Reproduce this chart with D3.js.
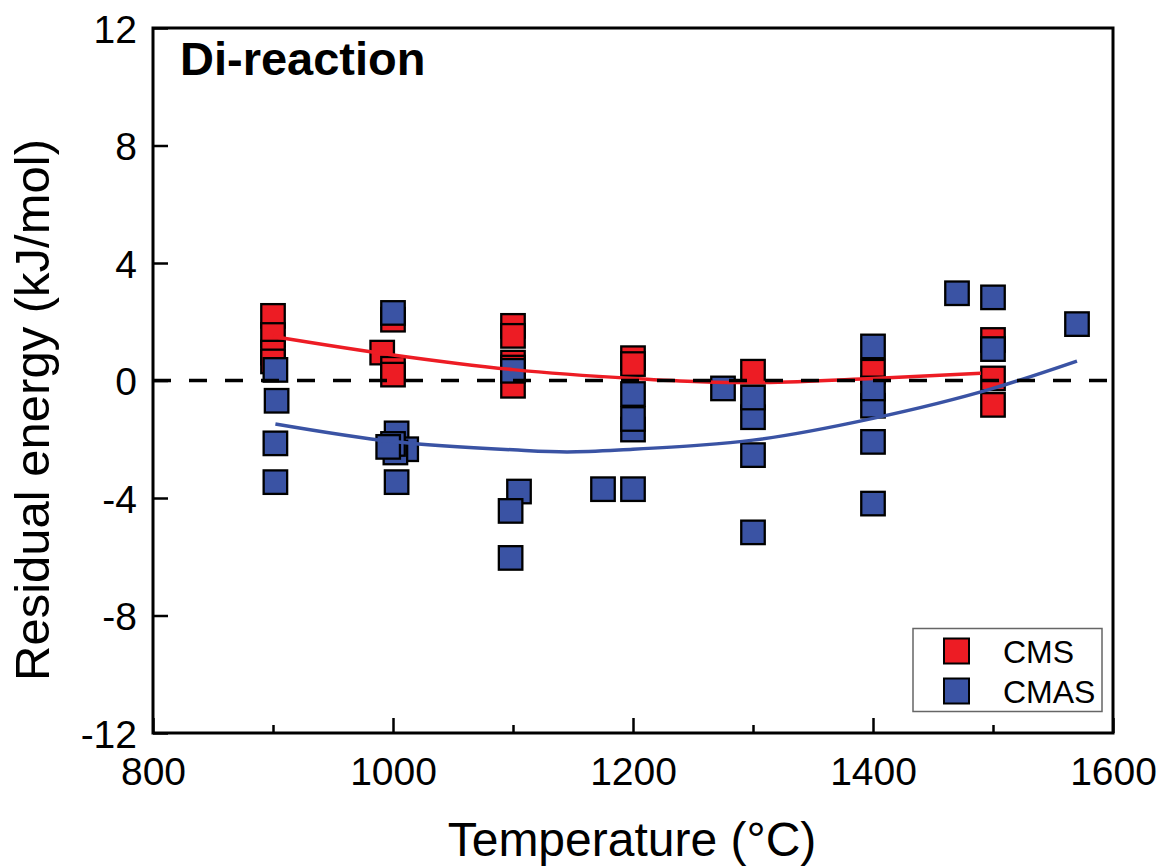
<!DOCTYPE html>
<html>
<head>
<meta charset="utf-8">
<script src="https://cdn.jsdelivr.net/npm/d3@7"></script>
<style>
  html, body { margin: 0; padding: 0; background: #fff; }
  svg { display: block; font-family: "Liberation Sans", Arial, sans-serif; }
</style>
</head>
<body>
<svg id="chart" width="1165" height="868"></svg>
<script>
// ---- data ----
const cmsT = [900, 900, 900, 900, 1000, 991, 1000, 1000, 1100, 1100, 1100, 1100, 1100, 1200, 1200, 1300, 1400, 1500, 1500, 1500];
const cmsV = [2.2, 1.55, 0.95, 0.65, 2.07, 0.95, 0.4, 0.2, 1.86, 1.52, 0.61, 0.44, -0.18, 0.76, 0.56, 0.3, 0.3, 1.38, 0.07, -0.83];

const cmasT = [902, 903, 902, 902, 1000, 1003, 1011, 1002, 1000, 996, 1003, 1100, 1105, 1098, 1098, 1175, 1200, 1200, 1200, 1200, 1275, 1300, 1300, 1300, 1300, 1400, 1400, 1400, 1400, 1400, 1470, 1500, 1500, 1570];
const cmasV = [0.36, -0.69, -2.14, -3.46, 2.3, -1.8, -2.34, -2.45, -2.16, -2.26, -3.46, 0.33, -3.78, -4.44, -6.04, -3.7, -1.67, -1.31, -0.46, -3.7, -0.27, -1.25, -0.58, -2.54, -5.17, 1.16, -0.86, -0.27, -2.09, -4.19, 2.97, 2.83, 1.07, 1.92];

// fit curves
const cmsFitT = [900, 1000, 1100, 1200, 1256, 1300, 1400, 1490];
const cmsFitV = [1.5, 0.87, 0.37, 0.07, -0.04, -0.07, 0.07, 0.25];
const cmasFitT = [902, 1000, 1100, 1145, 1200, 1256, 1300, 1400, 1500, 1570];
const cmasFitV = [-1.48, -2.08, -2.36, -2.43, -2.34, -2.2, -2.03, -1.29, -0.27, 0.66];

const xTicks = [800, 1000, 1200, 1400, 1600];
const xMinorTicks = [900, 1100, 1300, 1500];
const yTicks = [-12, -8, -4, 0, 4, 8, 12];

const seriesNames = ["CMS", "CMAS"];
const seriesColors = ["#ED1C24", "#3A53A4"];

// ---- layout ----
const svg = d3.select("#chart");
const L = 153, R = 1113, T = 28, B = 733;
const x = d3.scaleLinear().domain([800, 1600]).range([L, R]);
const y = d3.scaleLinear().domain([-12, 12]).range([B, T]);
const fmt = d => String(d); // plain hyphen-minus like the reference

// fit lines
const line = d3.line().x(d => x(d[0])).y(d => y(d[1])).curve(d3.curveMonotoneX);
const cmsFit = cmsFitT.map((t, i) => [t, cmsFitV[i]]);
const cmasFit = cmasFitT.map((t, i) => [t, cmasFitV[i]]);

// markers
const S = 23.5;
function drawSquares(ts, vs, color) {
  svg.append("g").selectAll("rect")
    .data(ts.map((t, i) => [t, vs[i]]))
    .join("rect")
    .attr("x", d => x(d[0]) - S / 2)
    .attr("y", d => y(d[1]) - S / 2)
    .attr("width", S).attr("height", S)
    .attr("fill", color)
    .attr("stroke", "#000").attr("stroke-width", 2.3);
}
drawSquares(cmsT, cmsV, seriesColors[0]);
drawSquares(cmasT, cmasV, seriesColors[1]);

svg.append("path").datum(cmsFit).attr("d", line)
  .attr("fill", "none").attr("stroke", seriesColors[0]).attr("stroke-width", 3.5);
svg.append("path").datum(cmasFit).attr("d", line)
  .attr("fill", "none").attr("stroke", seriesColors[1]).attr("stroke-width", 3.5);

// zero dashed line
svg.append("line")
  .attr("x1", x(800)).attr("x2", x(1600))
  .attr("y1", y(0)).attr("y2", y(0))
  .attr("stroke", "#000").attr("stroke-width", 3.5)
  .attr("stroke-dasharray", "18,18");

// axes
const xAxis = svg.append("g").attr("transform", `translate(0,${B})`)
  .call(d3.axisBottom(x).tickValues(xTicks).tickSize(-15).tickPadding(24).tickFormat(fmt));
const xMinor = svg.append("g").attr("transform", `translate(0,${B})`)
  .call(d3.axisBottom(x).tickValues(xMinorTicks).tickSize(-8).tickFormat(""));
const yAxis = svg.append("g").attr("transform", `translate(${L},0)`)
  .call(d3.axisLeft(y).tickValues(yTicks).tickSize(-15).tickPadding(16).tickFormat(fmt));

[xAxis, xMinor, yAxis].forEach(g => {
  g.select(".domain").remove();
  g.selectAll(".tick line").attr("stroke", "#000").attr("stroke-width", 2.5);
  g.selectAll(".tick text").attr("fill", "#000")
    .style("font-family", "'Liberation Sans', Arial, sans-serif")
    .style("font-size", "39px");
});
yAxis.selectAll(".tick text").attr("dy", "0.36em");

// frame
svg.append("rect").attr("x", L).attr("y", T).attr("width", R - L).attr("height", B - T)
  .attr("fill", "none").attr("stroke", "#000").attr("stroke-width", 3);

// titles
svg.append("text").attr("x", 632).attr("y", 856).attr("text-anchor", "middle")
  .style("font-size", "48px").text("Temperature (°C)");
svg.append("text").attr("transform", "translate(49,410) rotate(-90)").attr("text-anchor", "middle")
  .style("font-size", "49px").text("Residual energy (kJ/mol)");
svg.append("text").attr("x", 180).attr("y", 75)
  .style("font-size", "47px").style("font-weight", "bold").text("Di-reaction");

// legend
const lg = svg.append("g");
lg.append("rect").attr("x", 913).attr("y", 628.5).attr("width", 189).attr("height", 83)
  .attr("fill", "#fff").attr("stroke", "#666").attr("stroke-width", 1.5);
seriesNames.forEach((name, i) => {
  const cy = 651 + i * 40;
  lg.append("rect").attr("x", 944).attr("y", cy - 12.5).attr("width", 25).attr("height", 25)
    .attr("fill", seriesColors[i]).attr("stroke", "#000").attr("stroke-width", 2);
  lg.append("text").attr("x", 1003).attr("y", cy + 11.5)
    .style("font-size", "32px").text(name);
});
</script>
</body>
</html>
